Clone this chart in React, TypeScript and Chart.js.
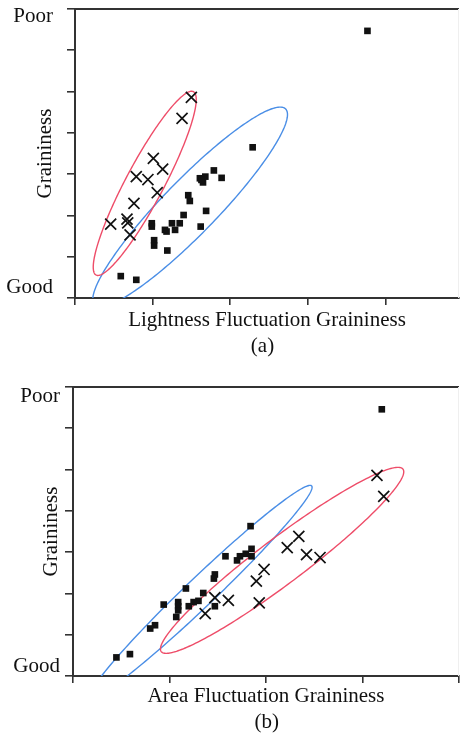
import React, { useEffect, useRef } from "react";
import { Chart, registerables } from "chart.js";

Chart.register(...registerables);

// ---------- data ----------
const Y_TICKS = [0, 1, 2, 3, 4, 5, 6, 7];
const Y_MAX = 7;
const A_X_TICKS = [0, 1, 2, 3, 4];
const A_X_MAX = 4.95;
const B_X_TICKS = [0, 1, 2, 3, 4];
const B_X_MAX = 4.0;

const A_X_TITLE = "Lightness Fluctuation Graininess";
const B_X_TITLE = "Area Fluctuation Graininess";
const Y_TITLE = "Graininess";
const Y_TOP_LABEL = "Poor";
const Y_BOTTOM_LABEL = "Good";
const A_CAPTION = "(a)";
const B_CAPTION = "(b)";

// (a) squares
const A_SQ_X = [3.77, 2.29, 1.79, 1.89, 1.61, 1.68, 1.65, 1.63, 1.46, 1.48, 1.69, 1.40, 1.35, 1.25, 1.29, 1.16, 1.18, 1.62, 0.99, 0.99, 1.02, 1.02, 1.19, 0.59, 0.79];
const A_SQ_Y = [6.47, 3.65, 3.09, 2.91, 2.90, 2.94, 2.80, 2.86, 2.49, 2.35, 2.11, 2.01, 1.81, 1.81, 1.65, 1.65, 1.61, 1.73, 1.81, 1.73, 1.40, 1.27, 1.15, 0.53, 0.44];
// (a) crosses
const A_X_X = [1.50, 1.38, 1.01, 1.13, 0.79, 0.94, 1.06, 0.76, 0.46, 0.67, 0.68, 0.71];
const A_X_Y = [4.86, 4.35, 3.38, 3.12, 2.94, 2.87, 2.55, 2.29, 1.79, 1.91, 1.82, 1.53];

// (b) squares
const B_SQ_X = [3.20, 1.84, 1.85, 1.85, 1.79, 1.73, 1.70, 1.58, 1.47, 1.46, 1.35, 1.30, 1.25, 1.20, 1.17, 1.09, 1.09, 1.09, 1.07, 1.47, 0.94, 0.85, 0.80, 0.59, 0.45];
const B_SQ_Y = [6.46, 3.63, 3.08, 2.90, 2.96, 2.90, 2.80, 2.90, 2.46, 2.36, 2.01, 1.82, 1.79, 1.69, 2.12, 1.79, 1.69, 1.59, 1.43, 1.69, 1.73, 1.23, 1.15, 0.53, 0.45];
// (b) crosses
const B_X_X = [3.15, 3.22, 2.34, 2.22, 2.42, 2.56, 1.98, 1.90, 1.93, 1.47, 1.61, 1.37];
const B_X_Y = [4.86, 4.35, 3.38, 3.11, 2.94, 2.87, 2.58, 2.30, 1.77, 1.90, 1.83, 1.51];

// ellipses: [centerX, centerY, u.x, u.y, v.x, v.y] in data units  (p = c + u cos t + v sin t)
const A_ELLIPSE_BLUE = [1.484, 2.203, 1.161, 2.421, 0.477, 0];
const A_ELLIPSE_RED = [0.899, 2.777, 0.628, 2.22, 0.215, -0.22];
const B_ELLIPSE_BLUE = [1.323, 2.036, 1.134, 2.581, 0.217, 0];
const B_ELLIPSE_RED = [2.167, 2.801, 1.201, 2.252, 0.383, 0];

// ---------- styles ----------
const FONT_FAMILY = '"Liberation Serif", "Times New Roman", serif';
const FONT_SIZE = 21;
const INK = "#111111";
const AXIS = "#333333";
const RED = "#ee4d69";
const BLUE = "#4a8ee6";

const toPoints = (xs: number[], ys: number[]) => xs.map((x, i) => ({ x, y: ys[i] }));

const ellipsePlugin = {
  id: "ellipses",
  beforeDatasetsDraw(chart: any, _args: any, opts: any) {
    const { ctx, chartArea, scales } = chart;
    const xs = scales.x;
    const ys = scales.y;
    ctx.save();
    ctx.beginPath();
    ctx.rect(chartArea.left, chartArea.top, chartArea.right - chartArea.left, chartArea.bottom - chartArea.top);
    ctx.clip();
    for (const e of opts.items || []) {
      const [cx, cy, ux, uy, vx, vy] = e.params;
      ctx.beginPath();
      const n = 240;
      for (let i = 0; i <= n; i++) {
        const t = (i / n) * Math.PI * 2;
        const dx = cx + ux * Math.cos(t) + vx * Math.sin(t);
        const dy = cy + uy * Math.cos(t) + vy * Math.sin(t);
        const px = xs.getPixelForValue(dx);
        const py = ys.getPixelForValue(dy);
        if (i === 0) ctx.moveTo(px, py);
        else ctx.lineTo(px, py);
      }
      ctx.closePath();
      ctx.strokeStyle = e.color;
      ctx.lineWidth = 1.4;
      ctx.stroke();
    }
    ctx.restore();
  },
};

const framePlugin = {
  id: "frameText",
  afterDraw(chart: any, _args: any, opts: any) {
    const { ctx, chartArea, scales } = chart;
    const ys = scales.y;
    ctx.save();
    // top border
    ctx.strokeStyle = AXIS;
    ctx.lineWidth = 2;
    ctx.beginPath();
    ctx.moveTo(chartArea.left, Math.round(chartArea.top));
    ctx.lineTo(chartArea.right, Math.round(chartArea.top));
    ctx.stroke();
    // faint right border
    ctx.strokeStyle = "#efefef";
    ctx.lineWidth = 1;
    ctx.beginPath();
    ctx.moveTo(chartArea.right - 0.5, chartArea.top);
    ctx.lineTo(chartArea.right - 0.5, chartArea.bottom);
    ctx.stroke();
    // labels
    ctx.fillStyle = INK;
    ctx.font = `${FONT_SIZE}px ${FONT_FAMILY}`;
    ctx.textAlign = "right";
    ctx.textBaseline = "alphabetic";
    ctx.fillText(Y_TOP_LABEL, opts.labelRight, ys.getPixelForValue(Y_MAX) + opts.poorDy);
    ctx.fillText(Y_BOTTOM_LABEL, opts.labelRight, ys.getPixelForValue(0) - opts.goodDy);
    ctx.textAlign = "center";
    ctx.textBaseline = "middle";
    ctx.fillText(opts.caption, opts.captionX, opts.captionY);
    ctx.restore();
  },
};

type Cfg = {
  width: number;
  height: number;
  left: number;
  top: number;
  right: number;
  bottom: number;
  xMax: number;
  xTicks: number[];
  xTitle: string;
  xTitlePad: number;
  yTitlePad: number;
  sq: { x: number; y: number }[];
  cr: { x: number; y: number }[];
  ellipses: { params: number[]; color: string }[];
  text: any;
};

function Panel({ cfg }: { cfg: Cfg }) {
  const ref = useRef<HTMLCanvasElement | null>(null);
  useEffect(() => {
    if (!ref.current) return;
    const font = { family: FONT_FAMILY, size: FONT_SIZE, lineHeight: 1.2 };
    const chart = new Chart(ref.current, {
      type: "scatter",
      data: {
        datasets: [
          {
            data: cfg.sq,
            pointStyle: "rect",
            pointRadius: 4.7,
            backgroundColor: INK,
            borderColor: INK,
            borderWidth: 0,
          },
          {
            data: cfg.cr,
            pointStyle: "crossRot",
            pointRadius: 7.8,
            backgroundColor: INK,
            borderColor: INK,
            borderWidth: 1.7,
          },
        ],
      },
      options: {
        responsive: false,
        animation: false,
        events: [],
        layout: {
          autoPadding: false,
          padding: { left: 0, top: cfg.top, right: cfg.width - cfg.right, bottom: 0 },
        },
        plugins: {
          legend: { display: false },
          tooltip: { enabled: false },
          ellipses: { items: cfg.ellipses },
          frameText: cfg.text,
        } as any,
        scales: {
          x: {
            type: "linear",
            min: 0,
            max: cfg.xMax,
            afterBuildTicks: (s: any) => {
              s.ticks = cfg.xTicks.map((v) => ({ value: v }));
            },
            afterFit: (s: any) => {
              s.height = cfg.height - cfg.bottom;
            },
            ticks: { display: false },
            grid: { display: true, drawOnChartArea: false, drawTicks: true, tickLength: 7, color: AXIS, lineWidth: 1.6 },
            border: { display: true, color: AXIS, width: 2 },
            title: { display: true, text: cfg.xTitle, color: INK, font, padding: { top: 0, bottom: cfg.xTitlePad } },
          },
          y: {
            type: "linear",
            min: 0,
            max: Y_MAX,
            afterBuildTicks: (s: any) => {
              s.ticks = Y_TICKS.map((v) => ({ value: v }));
            },
            afterFit: (s: any) => {
              s.width = cfg.left;
            },
            ticks: { display: false },
            grid: { display: true, drawOnChartArea: false, drawTicks: true, tickLength: 8, color: AXIS, lineWidth: 1.6 },
            border: { display: true, color: AXIS, width: 2 },
            title: { display: true, text: Y_TITLE, color: INK, font, padding: { top: cfg.yTitlePad, bottom: 0 } },
          },
        },
      } as any,
      plugins: [ellipsePlugin, framePlugin],
    });
    return () => chart.destroy();
  }, [cfg]);
  return (
    <canvas
      ref={ref}
      width={cfg.width}
      height={cfg.height}
      style={{ display: "block", width: cfg.width, height: cfg.height }}
    />
  );
}

const CFG_A: Cfg = {
  width: 460,
  height: 367,
  left: 75,
  top: 9,
  right: 459,
  bottom: 298,
  xMax: A_X_MAX,
  xTicks: A_X_TICKS,
  xTitle: A_X_TITLE,
  xTitlePad: 34,
  yTitlePad: 32.4,
  sq: toPoints(A_SQ_X, A_SQ_Y),
  cr: toPoints(A_X_X, A_X_Y),
  ellipses: [
    { params: A_ELLIPSE_BLUE, color: BLUE },
    { params: A_ELLIPSE_RED, color: RED },
  ],
  text: { labelRight: 53, poorDy: 12.5, goodDy: 5, caption: A_CAPTION, captionX: 262.5, captionY: 346 },
};

const CFG_B: Cfg = {
  width: 460,
  height: 368,
  left: 73,
  top: 20,
  right: 459,
  bottom: 309,
  xMax: B_X_MAX,
  xTicks: B_X_TICKS,
  xTitle: B_X_TITLE,
  xTitlePad: 26.4,
  yTitlePad: 39.1,
  sq: toPoints(B_SQ_X, B_SQ_Y),
  cr: toPoints(B_X_X, B_X_Y),
  ellipses: [
    { params: B_ELLIPSE_BLUE, color: BLUE },
    { params: B_ELLIPSE_RED, color: RED },
  ],
  text: { labelRight: 60, poorDy: 15, goodDy: 4.5, caption: B_CAPTION, captionX: 266.7, captionY: 355 },
};

export default function App() {
  useEffect(() => {
    document.body.style.margin = "0";
    document.body.style.background = "#ffffff";
  }, []);
  return (
    <div style={{ position: "fixed", left: 0, top: 0, width: 460, height: 735, background: "#fff" }}>
      <Panel cfg={CFG_A} />
      <Panel cfg={CFG_B} />
    </div>
  );
}
